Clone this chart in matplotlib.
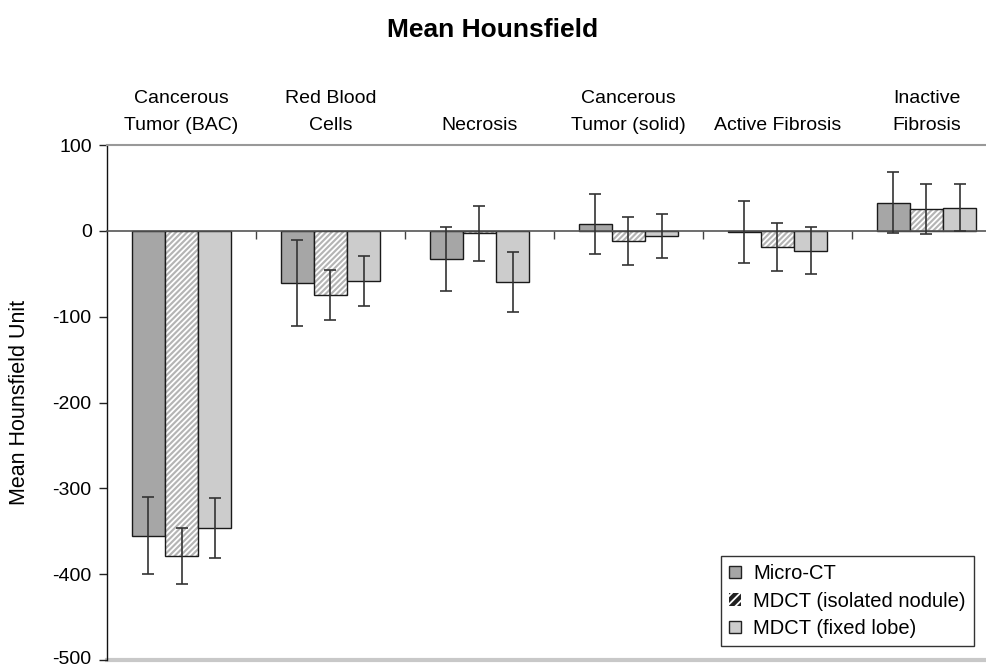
import matplotlib
matplotlib.use("Agg")
import matplotlib.pyplot as plt
import matplotlib.patches as mpatches
import matplotlib.transforms as mtransforms
import numpy as np

plt.rcParams['font.family'] = ['Liberation Sans', 'DejaVu Sans']
plt.rcParams['hatch.linewidth'] = 1.3

categories = ["Cancerous\nTumor (BAC)", "Red Blood\nCells", "Necrosis",
              "Cancerous\nTumor (solid)", "Active Fibrosis", "Inactive\nFibrosis"]
series_names = ["Micro-CT", "MDCT (isolated nodule)", "MDCT (fixed lobe)"]

micro_ct = [-355, -61, -33, 8, -1, 33]
micro_ct_err = [45, 50, 37, 35, 36, 36]
mdct_isolated = [-379, -75, -3, -12, -19, 25]
mdct_isolated_err = [33, 29, 32, 28, 28, 29]
mdct_fixed = [-346, -58, -60, -6, -23, 27]
mdct_fixed_err = [35, 29, 35, 26, 27, 27]

yticks = [100, 0, -100, -200, -300, -400, -500]

fig = plt.figure(figsize=(9.87, 6.67), dpi=100)
ax = fig.add_axes([107/987, 7/667, 894/987, 515/667])

x = np.arange(len(categories)) + 0.5
w = 0.222
edge = '#1a1a1a'
ecol = '#333333'

ax.bar(x - w, micro_ct, w, color='#a6a6a6', edgecolor=edge, linewidth=1.0, zorder=2)
ax.bar(x, mdct_isolated, w, color='#b4b4b4', edgecolor='white', hatch='//////', linewidth=0, zorder=2)
ax.bar(x, mdct_isolated, w, color='none', edgecolor=edge, linewidth=1.0, zorder=2)
ax.bar(x + w, mdct_fixed, w, color='#cccccc', edgecolor=edge, linewidth=1.0, zorder=2)

for off, vals, errs in [(-w, micro_ct, micro_ct_err), (0, mdct_isolated, mdct_isolated_err),
                        (w, mdct_fixed, mdct_fixed_err)]:
    ax.errorbar(x + off, vals, yerr=errs, fmt='none', ecolor=ecol, elinewidth=1.2,
                capsize=4, capthick=1.2, zorder=3)

ax.set_xlim(0, 6)
ax.set_ylim(-500, 100)
ax.set_yticks(yticks)
ax.set_yticklabels([str(v) for v in yticks], fontsize=14)
ax.set_xticks([1, 2, 3, 4, 5])
ax.set_xticklabels([])
ax.tick_params(axis='y', direction='out', length=6, width=1, color='#222222', pad=5)
ax.tick_params(axis='x', direction='out', length=6, width=1, color='#444444')

for lab in ax.get_yticklabels():
    if lab.get_text() == '-500':
        lab.set_transform(lab.get_transform() +
                          mtransforms.ScaledTranslation(0, 3/100, fig.dpi_scale_trans))

ax.spines['left'].set_color('#111111')
ax.spines['left'].set_linewidth(1.0)
ax.spines['top'].set_color('#999999')
ax.spines['top'].set_linewidth(1.5)
ax.spines['right'].set_visible(False)
ax.spines['bottom'].set_position(('data', 0))
ax.spines['bottom'].set_color('#555555')
ax.spines['bottom'].set_linewidth(1.2)
ax.axhline(-500, color='#c8c8c8', linewidth=3, clip_on=False, zorder=1)

for xi, lab in zip(x, categories):
    ax.annotate(lab, xy=(xi, 1), xycoords=('data', 'axes fraction'), xytext=(0, 8),
                textcoords='offset points', ha='center', va='bottom',
                multialignment='center', fontsize=14, linespacing=1.75)

fig.text(0.499, 1 - 30/667, "Mean Hounsfield", ha='center', va='center',
         fontsize=19, fontweight='bold')
fig.text(20/987, 1 - 402/667, "Mean Hounsfield Unit", ha='center', va='center',
         rotation=90, fontsize=15.5)

handles = [mpatches.Patch(facecolor='#a6a6a6', edgecolor='#222222', linewidth=1),
           mpatches.Patch(facecolor='#222222', edgecolor='white', hatch='////', linewidth=0),
           mpatches.Patch(facecolor='#cccccc', edgecolor='#222222', linewidth=1)]
leg = ax.legend(handles, series_names, loc='lower left', bbox_to_anchor=(0.687, 0.027),
                borderaxespad=0, fancybox=False, framealpha=1, edgecolor='#333333',
                fontsize=14.5, handlelength=0.6, handleheight=0.6, handletextpad=0.6,
                labelspacing=0.42, borderpad=0.4)
leg.get_frame().set_linewidth(1.0)
fig.canvas.draw()
# widen frame to the reference's right edge
bb = leg.get_window_extent()

fig.savefig("out.png", dpi=100)
